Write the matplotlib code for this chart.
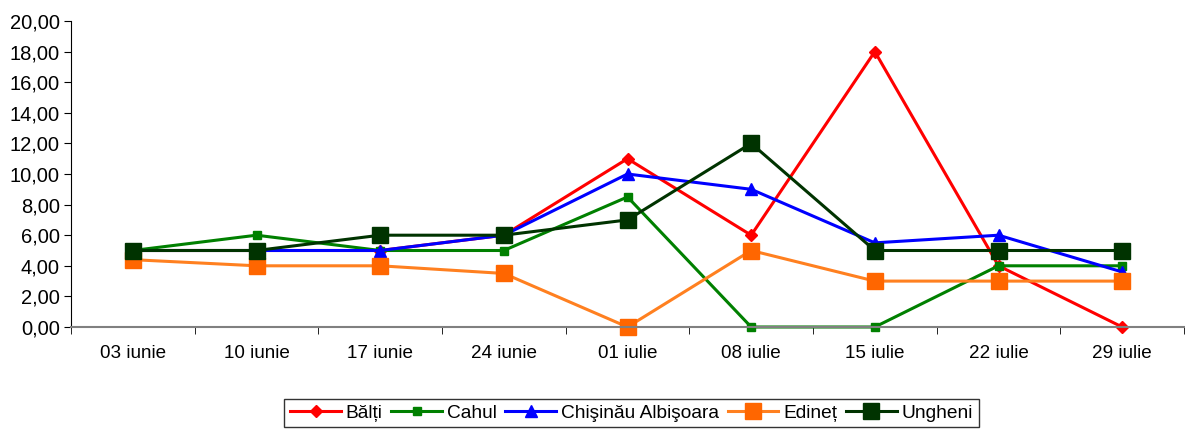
import matplotlib.pyplot as plt
import matplotlib as mpl
from matplotlib.ticker import FuncFormatter, FixedLocator

mpl.rcParams['font.family'] = ['Liberation Sans', 'DejaVu Sans']

dates = ['03 iunie', '10 iunie', '17 iunie', '24 iunie', '01 iulie',
         '08 iulie', '15 iulie', '22 iulie', '29 iulie']
balti = [5, 5, 5, 6, 11, 6, 18, 4, 0]
cahul = [5, 6, 5, 5, 8.5, 0, 0, 4, 4]
chisinau = [5, 5, 5, 6, 10, 9, 5.5, 6, 3.6]
edinet = [4.4, 4, 4, 3.5, 0, 5, 3, 3, 3]
ungheni = [5, 5, 6, 6, 7, 12, 5, 5, 5]


def comma_fmt(v, pos):
    return f'{v:.2f}'.replace('.', ',')


fig = plt.figure(figsize=(11.85, 4.3), dpi=100)
ax = fig.add_axes([71 / 1185, 1 - 327 / 430, 1113 / 1185, 306 / 430])

x = list(range(len(dates)))
series = [
    ('Bălți', balti, '#FF0000', '#FF0000', 'D', 6),
    ('Cahul', cahul, '#008000', '#008000', 's', 6),
    ('Chişinău Albişoara', chisinau, '#0000FF', '#0000FF', '^', 8),
    ('Edineț', edinet, '#FF8020', '#FF6600', 's', 11),
    ('Ungheni', ungheni, '#003300', '#003300', 's', 12),
]
for name, vals, lc, mc, mk, ms in series:
    ax.plot(x, vals, color=lc, lw=2.2, marker=mk, ms=ms, clip_on=False,
            markerfacecolor=mc, markeredgecolor=mc, label=name)

ax.set_xlim(-0.5, len(dates) - 0.5)
ax.set_ylim(0, 20)
ax.set_yticks([0, 2, 4, 6, 8, 10, 12, 14, 16, 18, 20])
ax.yaxis.set_major_formatter(FuncFormatter(comma_fmt))
ax.set_xticks(x)
ax.set_xticklabels(dates)
ax.xaxis.set_minor_locator(FixedLocator([i - 0.5 for i in range(len(dates) + 1)]))
ax.tick_params(axis='x', which='major', length=0, pad=13, labelsize=13.6)
ax.tick_params(axis='x', which='minor', length=5, direction='out', color='#000000')
ax.tick_params(axis='y', length=5, direction='out', labelsize=14.5, pad=3)

for s in ('top', 'right'):
    ax.spines[s].set_visible(False)
ax.spines['left'].set_color('#000000')
ax.spines['bottom'].set_color('#808080')
ax.spines['bottom'].set_linewidth(1.5)

leg = fig.legend(loc='center', bbox_to_anchor=(631.5 / 1185, 1 - 413 / 430), ncol=5,
                 frameon=True, fancybox=False, fontsize=13.8, handlelength=2.65,
                 handletextpad=0.25, columnspacing=0.45, borderpad=0.3,
                 borderaxespad=0, edgecolor='#000000')
leg.get_frame().set_linewidth(1.0)

fig.savefig('out.png', dpi=100)
